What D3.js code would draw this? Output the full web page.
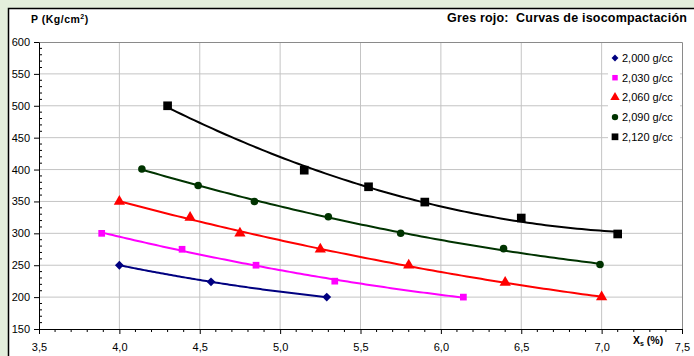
<!DOCTYPE html>
<html>
<head>
<meta charset="utf-8">
<script src="https://cdn.jsdelivr.net/npm/d3@7"></script>
<style>
  body { margin: 0; background: #e4efdc; overflow: hidden; }
  svg { display: block; font-family: "Liberation Sans", Arial, sans-serif; }
</style>
</head>
<body>
<div id="chart"></div>
<script>
// series labels
const seriesNames = ['2,000 g/cc', '2,030 g/cc', '2,060 g/cc', '2,090 g/cc', '2,120 g/cc'];

// Xs (%) values per series
const x2000 = [4.0, 4.57, 5.29];
const x2030 = [3.89, 4.39, 4.85, 5.34, 6.14];
const x2060 = [4.0, 4.44, 4.75, 5.25, 5.8, 6.4, 7.0];
const x2090 = [4.14, 4.49, 4.84, 5.3, 5.75, 6.39, 6.99];
const x2120 = [4.3, 5.15, 5.55, 5.9, 6.5, 7.1];

// P (Kg/cm2) values per series
const p2000 = [250, 224, 200];
const p2030 = [300, 275, 250, 225, 200];
const p2060 = [350, 325, 300, 275, 250, 223, 200];
const p2090 = [401, 375, 350, 326, 300, 276, 251];
const p2120 = [500, 399, 373, 349, 324, 299];

const xTicks = [3.5, 4.0, 4.5, 5.0, 5.5, 6.0, 6.5, 7.0, 7.5];
const yTicks = [150, 200, 250, 300, 350, 400, 450, 500, 550, 600];

const colors = ['#000080', '#ff00ff', '#ff0000', '#003300', '#000000'];
const shapes = [d3.symbolDiamond2, d3.symbolSquare, d3.symbolTriangle, d3.symbolCircle, d3.symbolSquare];
const sizes = [50, 45, 55, 45, 75];
const legendSizes = [30, 30, 38, 32, 45];

const series = [[x2000, p2000], [x2030, p2030], [x2060, p2060], [x2090, p2090], [x2120, p2120]]
  .map((s, i) => ({
    name: seriesNames[i],
    points: s[0].map((x, j) => ({ x: x, y: s[1][j] }))
  }));

const width = 694, height = 356;
const margin = { left: 39, right: 12, top: 42, bottom: 27 };

const svg = d3.select('#chart').append('svg')
  .attr('width', width)
  .attr('height', height);

// chart area frame
svg.append('rect')
  .attr('x', 8.5).attr('y', 8.5)
  .attr('width', width + 10).attr('height', height + 10)
  .attr('fill', '#ffffff')
  .attr('stroke', '#000')
  .attr('stroke-width', 1.5);

const x = d3.scaleLinear().domain([3.5, 7.5]).range([margin.left, width - margin.right]);
const y = d3.scaleLinear().domain([150, 600]).range([height - margin.bottom, margin.top]);

// gridlines
svg.append('g').selectAll('line.vg')
  .data(xTicks.slice(1, -1))
  .join('line')
    .attr('x1', d => x(d)).attr('x2', d => x(d))
    .attr('y1', y(150)).attr('y2', y(600))
    .attr('stroke', '#c4c4c4');

svg.append('g').selectAll('line.hg')
  .data(yTicks.slice(1, -1))
  .join('line')
    .attr('x1', x(3.5)).attr('x2', x(7.5))
    .attr('y1', d => y(d)).attr('y2', d => y(d))
    .attr('stroke', '#c4c4c4');

// plot border (top, right)
svg.append('path')
  .attr('d', `M${x(3.5)},${y(600) + 0.5}H${x(7.5) + 0.5}V${y(150)}`)
  .attr('fill', 'none')
  .attr('stroke', '#8a8a8a');

// x axis
const xAxis = svg.append('g')
  .attr('transform', `translate(0,${y(150)})`)
  .call(d3.axisBottom(x).tickValues(xTicks).tickSize(5).tickSizeOuter(0)
    .tickFormat(d => d3.format('.1f')(d).replace('.', ',')));
xAxis.select('.domain').attr('stroke', '#000');
xAxis.selectAll('text').attr('font-size', 11).attr('fill', '#000').attr('dy', '1.25em');

svg.append('g').selectAll('line')
  .data(d3.range(35, 76).map(d => d / 10).filter(d => Math.round(d * 10) % 5 !== 0))
  .join('line')
    .attr('x1', d => x(d)).attr('x2', d => x(d))
    .attr('y1', y(150)).attr('y2', y(150) + 3)
    .attr('stroke', '#000');

// y axis
const yAxis = svg.append('g')
  .attr('transform', `translate(${x(3.5)},0)`)
  .call(d3.axisLeft(y).tickValues(yTicks).tickSize(5).tickSizeOuter(0));
yAxis.select('.domain').attr('stroke', '#000');
yAxis.selectAll('text').attr('font-size', 11).attr('fill', '#000').attr('x', -9);

svg.append('g').selectAll('line')
  .data(d3.range(150, 601, 10).filter(d => d % 50 !== 0))
  .join('line')
    .attr('x1', x(3.5)).attr('x2', x(3.5) + 3)
    .attr('y1', d => y(d)).attr('y2', d => y(d))
    .attr('stroke', '#000');

// least-squares quadratic trendline through each series
function quadFit(pts) {
  const s = [0, 0, 0, 0, 0], t = [0, 0, 0];
  pts.forEach(p => {
    for (let k = 0; k < 5; k++) s[k] += Math.pow(p.x, k);
    for (let k = 0; k < 3; k++) t[k] += p.y * Math.pow(p.x, k);
  });
  const m = [[s[0], s[1], s[2], t[0]], [s[1], s[2], s[3], t[1]], [s[2], s[3], s[4], t[2]]];
  for (let i = 0; i < 3; i++) {
    for (let r = i + 1; r < 3; r++) {
      const f = m[r][i] / m[i][i];
      for (let c = i; c < 4; c++) m[r][c] -= f * m[i][c];
    }
  }
  const c = [0, 0, 0];
  for (let i = 2; i >= 0; i--) {
    let v = m[i][3];
    for (let j = i + 1; j < 3; j++) v -= m[i][j] * c[j];
    c[i] = v / m[i][i];
  }
  return xv => c[0] + c[1] * xv + c[2] * xv * xv;
}

const line = d3.line().x(d => x(d.x)).y(d => y(d.y));

series.forEach((s, i) => {
  const f = quadFit(s.points);
  const ext = d3.extent(s.points, d => d.x);
  const curve = d3.range(0, 101).map(k => {
    const xv = ext[0] + (ext[1] - ext[0]) * k / 100;
    return { x: xv, y: f(xv) };
  });
  svg.append('path')
    .datum(curve)
    .attr('d', line)
    .attr('fill', 'none')
    .attr('stroke', colors[i])
    .attr('stroke-width', 2);
});

series.forEach((s, i) => {
  svg.append('g').selectAll('path')
    .data(s.points)
    .join('path')
      .attr('transform', d => `translate(${x(d.x)},${y(d.y)})`)
      .attr('d', d3.symbol(shapes[i], sizes[i]))
      .attr('fill', colors[i]);
});

// legend
svg.append('rect')
  .attr('x', 608).attr('y', 46)
  .attr('width', 72).attr('height', 100)
  .attr('fill', '#fff');

const legend = svg.append('g').selectAll('g')
  .data(series)
  .join('g')
    .attr('transform', (d, i) => `translate(615,${58 + i * 19.7})`);
legend.append('path')
  .attr('d', (d, i) => d3.symbol(shapes[i], legendSizes[i])())
  .attr('fill', (d, i) => colors[i]);
legend.append('text')
  .attr('x', 7).attr('y', 4)
  .attr('font-size', 11)
  .text(d => d.name);

// titles
const yl = svg.append('text')
  .attr('x', 31).attr('y', 23)
  .attr('font-size', 10.5).attr('font-weight', 'bold')
  .attr('letter-spacing', 0.5);
yl.append('tspan').text('P (Kg/cm');
yl.append('tspan').attr('font-size', 7).attr('dy', -4).text('2');
yl.append('tspan').attr('dy', 4).text(')');

svg.append('text')
  .attr('x', 447).attr('y', 22)
  .attr('font-size', 12.5).attr('font-weight', 'bold')
  .attr('letter-spacing', 0.2)
  .style('white-space', 'pre')
  .text('Gres rojo:  Curvas de isocompactación');

const xl = svg.append('text')
  .attr('x', 633).attr('y', 344)
  .attr('font-size', 10.5).attr('font-weight', 'bold');
xl.append('tspan').text('X');
xl.append('tspan').attr('font-size', 7).attr('dy', 2).text('s');
xl.append('tspan').attr('dy', -2).text(' (%)');
</script>
</body>
</html>
